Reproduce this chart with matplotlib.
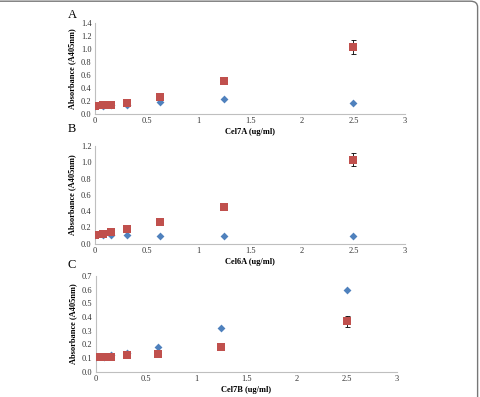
import matplotlib
matplotlib.use("Agg")
import matplotlib.pyplot as plt
from matplotlib.patches import FancyBboxPatch

plt.rcParams['font.family'] = ['Liberation Serif', 'DejaVu Serif']

x = [0, 0.078, 0.156, 0.3125, 0.625, 1.25, 2.5]

a_blue = [0.12, 0.12, 0.13, 0.14, 0.18, 0.22, 0.17]
a_red = [0.12, 0.13, 0.14, 0.17, 0.26, 0.50, 1.03]
a_err = [0.01, 0.01, 0.01, 0.02, 0.02, 0.02, 0.11]

b_blue = [0.11, 0.11, 0.11, 0.11, 0.10, 0.10, 0.10]
b_red = [0.11, 0.12, 0.14, 0.18, 0.27, 0.45, 1.03]
b_err = [0.01, 0.01, 0.01, 0.01, 0.01, 0.01, 0.08]

c_blue = [0.11, 0.11, 0.12, 0.14, 0.18, 0.32, 0.60]
c_red = [0.11, 0.11, 0.11, 0.12, 0.13, 0.18, 0.37]
c_err = [0.005, 0.005, 0.005, 0.01, 0.01, 0.01, 0.04]

panels = [
    ("A", "Cel7A (ug/ml)", a_blue, a_red, a_err, 1.4, [0.0, 0.2, 0.4, 0.6, 0.8, 1.0, 1.2, 1.4],
     [0.198, 0.7136, 0.646, 0.2292], 0.962),
    ("B", "Cel6A (ug/ml)", b_blue, b_red, b_err, 1.2, [0.0, 0.2, 0.4, 0.6, 0.8, 1.0, 1.2],
     [0.198, 0.3861, 0.646, 0.2461], 0.675),
    ("C", "Cel7B (ug/ml)", c_blue, c_red, c_err, 0.7, [0.0, 0.1, 0.2, 0.3, 0.4, 0.5, 0.6, 0.7],
     [0.1994, 0.0637, 0.627, 0.241], 0.3325),
]
xticks = [0, 0.5, 1, 1.5, 2, 2.5, 3]
xticklabels = ["0", "0.5", "1", "1.5", "2", "2.5", "3"]

W, H = 480, 397
fig = plt.figure(figsize=(4.8, 3.97), dpi=100)

frame = FancyBboxPatch((-0.05, -0.05), 1.045, 1.047, boxstyle="round,pad=0,rounding_size=0.015",
                       transform=fig.transFigure, facecolor="none", edgecolor="#777777", lw=1.0)
fig.patches.append(frame)

for letter, xlabel, blue, red, err, ymax, yt, pos, ly in panels:
    ax = fig.add_axes(pos)
    ax.scatter(x, blue, marker="D", s=16, color="#4F81BD", zorder=3, linewidths=0)
    ax.errorbar(x, red, yerr=err, fmt="none", ecolor="black", elinewidth=0.6, capsize=1.8,
                capthick=0.6, zorder=2)
    ax.scatter(x, red, marker="s", s=30, color="#C0504D", zorder=4, linewidths=0)
    ax.set_xlim(0, 3)
    ax.set_ylim(0, ymax)
    ax.set_xticks(xticks)
    ax.set_xticklabels(xticklabels)
    ax.set_yticks(yt)
    ax.set_yticklabels(["%.1f" % v for v in yt])
    ax.tick_params(axis="both", length=0, labelsize=6, pad=2.5, colors="#333333")
    for s in ["top", "right"]:
        ax.spines[s].set_visible(False)
    for s in ["left", "bottom"]:
        ax.spines[s].set_color("#BFBFBF")
        ax.spines[s].set_linewidth(0.8)
    ax.set_xlabel(xlabel, fontsize=6, fontweight="bold")
    ax.set_ylabel("Absorbance (A405nm)", fontsize=6, fontweight="bold")
    wpx = pos[2] * W
    hpx = pos[3] * H
    ax.xaxis.label.set_va("center")
    ax.xaxis.set_label_coords(0.5, -18.0 / hpx)
    ax.yaxis.label.set_va("center")
    ax.yaxis.set_label_coords(-23.0 / wpx, 0.5)
    ax.set_facecolor("none")
    fig.text(0.141, ly, letter, fontsize=9, ha="left", va="center")

fig.savefig("out.png", dpi=100)
